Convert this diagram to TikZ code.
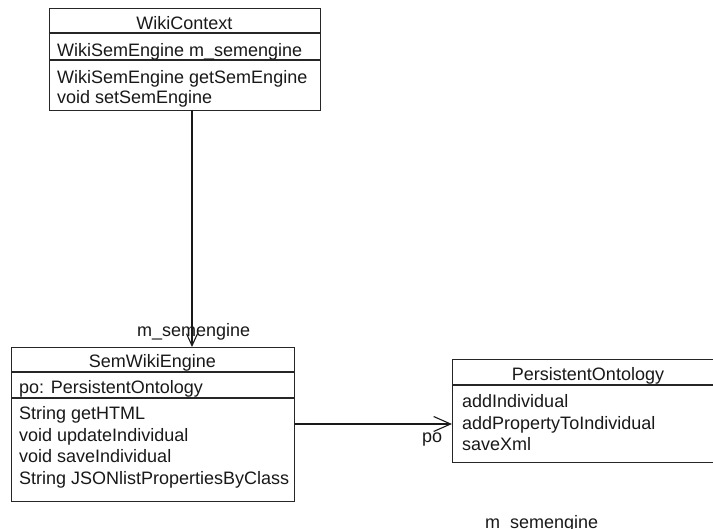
\documentclass[tikz,border=0pt]{standalone}
\usepackage{fontspec}
\setmainfont{Liberation Sans}
\usetikzlibrary{arrows.meta}
\tikzset{
  classbox/.style={draw=black!85, line width=1.1pt, fill=white, inner sep=0pt, anchor=north west},
  divider/.style={draw=black!85, line width=1.1pt},
  member/.style={inner sep=0pt, anchor=base west, text=black!90},
  title/.style={inner sep=0pt, anchor=base, text=black!90},
  assoc/.style={draw=black!90, line width=1.1pt},
  smallbarb/.style={-{Straight Barb[length=12pt,width=11pt,line width=1.1pt]}},
  largebarb/.style={-{Straight Barb[length=17pt,width=15pt,line width=1.1pt]}},
  rolelabel/.style={inner sep=0pt, anchor=base west, text=black!90}
}
\begin{document}
\begin{tikzpicture}[x=1pt, y=-1pt, font=\fontsize{18}{21.5}\selectfont]
\useasboundingbox[fill=white] (0,0) rectangle (713,529);
\clip (0,0) rectangle (713,529);

% WikiContext class
\node[classbox, minimum width=271pt, minimum height=102pt] (wiki) at (49,8) {};
\draw[divider] (49,33) -- (320,33);
\draw[divider] (49,60) -- (320,60);
\node[title] (wikiname) at (184.5,30) {WikiContext};
\node[member] (wikiattr) at (57,57) {WikiSemEngine m\_semengine};
\node[member] (wikiop1) at (57,84) {WikiSemEngine getSemEngine};
\node[member] (wikiop2) at (57,104) {void setSemEngine};

% SemWikiEngine class
\node[classbox, minimum width=283pt, minimum height=154pt] (sem) at (11,347) {};
\draw[divider] (11,372) -- (294,372);
\draw[divider] (11,398) -- (294,398);
\node[title] (semname) at (152.5,368) {SemWikiEngine};
\node[member] (semattr) at (19,394) {po: PersistentOntology};
\node[member] (semop1) at (19,420) {String getHTML};
\node[member] (semop2) at (19,441.5) {void updateIndividual};
\node[member] (semop3) at (19,463) {void saveIndividual};
\node[member] (semop4) at (19,484.5) {String JSONlistPropertiesByClass};

% PersistentOntology class
\node[classbox, minimum width=272pt, minimum height=103pt] (onto) at (452,359) {};
\draw[divider] (452,385) -- (724,385);
\node[title] (ontoname) at (588,381) {PersistentOntology};
\node[member] (ontoop1) at (462,408) {addIndividual};
\node[member] (ontoop2) at (462,430) {addPropertyToIndividual};
\node[member] (ontoop3) at (462,451) {saveXml};

% associations
\coordinate (wikiout) at (192,110);
\coordinate (polevel) at (0,424);
\draw[assoc, smallbarb] (wikiout) -- (wikiout |- sem.north);
\draw[assoc, largebarb] (sem.east |- polevel) -- (onto.west |- polevel);

% role names
\node[rolelabel] (role1) at (137,337) {m\_semengine};
\node[rolelabel] (role2) at (422,443) {po};
\node[rolelabel] (role3) at (485,529) {m\_semengine};
\end{tikzpicture}
\end{document}
